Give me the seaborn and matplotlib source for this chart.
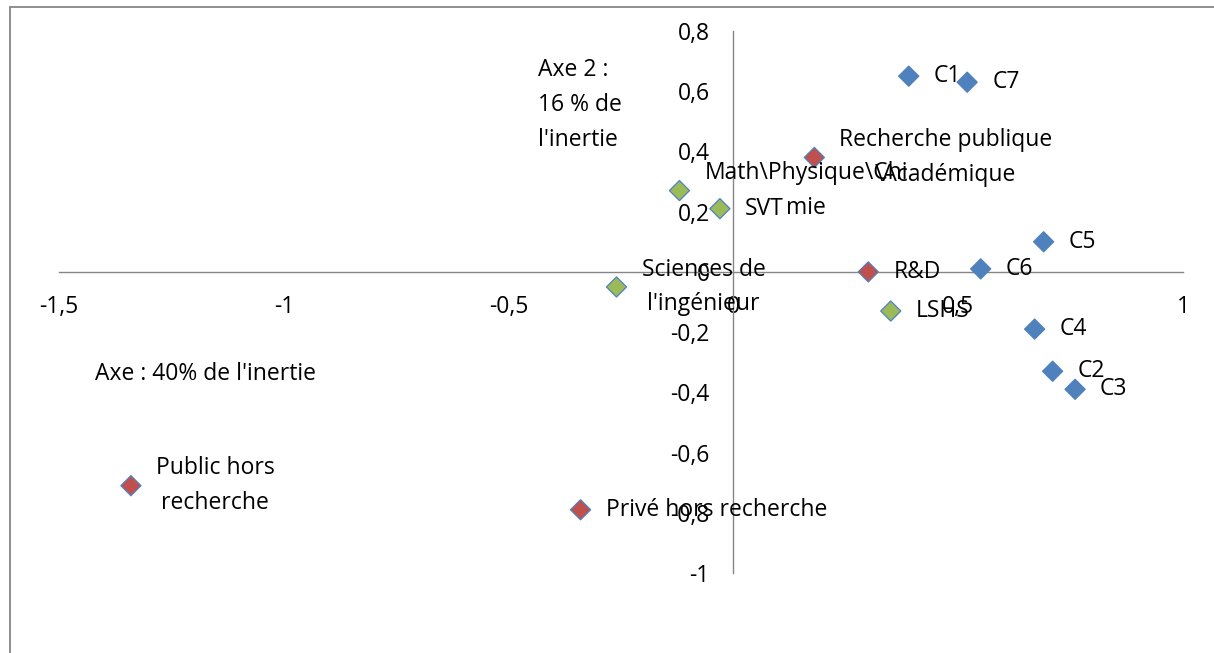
import seaborn as sns
import matplotlib.pyplot as plt
import pandas as pd
from matplotlib.lines import Line2D

sns.set_style("white")
plt.rcParams['font.family'] = ['Open Sans', 'DejaVu Sans']
plt.rcParams['text.color'] = 'black'
plt.rcParams['xtick.labelcolor'] = 'black'
plt.rcParams['ytick.labelcolor'] = 'black'

# Data: coordinates on the two first axes
labels = ["C1", "C7", "C5", "C6", "C4", "C2", "C3",
          "Recherche publique\n\\Académique", "R&D", "Public hors\nrecherche", "Privé hors recherche",
          "Math\\Physique\\Chi\nmie", "SVT", "Sciences de\nl'ingénieur", "LSHS"]
axe1 = [0.39, 0.52, 0.69, 0.55, 0.67, 0.71, 0.76,
        0.18, 0.30, -1.34, -0.34,
        -0.12, -0.03, -0.26, 0.35]
axe2 = [0.65, 0.63, 0.10, 0.01, -0.19, -0.33, -0.39,
        0.38, 0.00, -0.71, -0.79,
        0.27, 0.21, -0.05, -0.13]
groupe = ["classe"] * 7 + ["emploi"] * 4 + ["discipline"] * 4

x_ticks = [-1.5, -1, -0.5, 0, 0.5, 1]
x_tick_labels = ["-1,5", "-1", "-0,5", "0", "0,5", "1"]
y_ticks = [0.8, 0.6, 0.4, 0.2, 0, -0.2, -0.4, -0.6, -0.8, -1]
y_tick_labels = ["0,8", "0,6", "0,4", "0,2", "0", "-0,2", "-0,4", "-0,6", "-0,8", "-1"]

df = pd.DataFrame({"label": labels, "axe1": axe1, "axe2": axe2, "groupe": groupe})
palette = {"classe": "#4F81BD", "emploi": "#C0504D", "discipline": "#9BBB59"}
fs = 16.5
ls = 1.6

fig = plt.figure(figsize=(12.14, 6.53), dpi=100)
ax = fig.add_axes([59 / 1214, 80 / 653, 1124 / 1214, 542 / 653])

sns.scatterplot(data=df, x="axe1", y="axe2", hue="groupe", palette=palette,
                marker="D", s=105, edgecolor="#4F81BD", linewidth=0.9,
                legend=False, ax=ax, zorder=3)

for lab, xv, yv in zip(labels, axe1, axe2):
    ax.annotate(lab, (xv, yv), xytext=(18, 0), textcoords="offset points",
                ha="left", va="center", multialignment="center",
                fontsize=fs, linespacing=ls, zorder=4)

ax.set_xlim(-1.5, 1)
ax.set_ylim(-1, 0.8)
ax.set_xticks(x_ticks)
ax.set_xticklabels(x_tick_labels)
ax.set_yticks(y_ticks)
ax.set_yticklabels(y_tick_labels)
ax.set_xlabel("")
ax.set_ylabel("")

for side in ["top", "right"]:
    ax.spines[side].set_visible(False)
ax.spines["left"].set_position(("data", 0))
ax.spines["bottom"].set_position(("data", 0))
for side in ["left", "bottom"]:
    ax.spines[side].set_color("#868686")
    ax.spines[side].set_linewidth(1.0)
ax.tick_params(axis="both", direction="out", length=6, width=1.0, color="#868686",
               labelsize=fs, pad=11)
ax.patch.set_alpha(0)

ax.text(-0.435, 0.555, "Axe 2 :\n16 % de\nl'inertie", fontsize=fs, linespacing=ls,
        ha="left", va="center")
ax.text(-1.42, -0.34, "Axe : 40% de l'inertie", fontsize=fs, ha="left", va="center")

# outer chart frame (top and left only visible)
fig.add_artist(Line2D([9.5 / 1214, 1], [1 - 7 / 653, 1 - 7 / 653], color="#868686", lw=1.3))
fig.add_artist(Line2D([9.5 / 1214, 9.5 / 1214], [0, 1 - 7 / 653], color="#868686", lw=1.3))

fig.savefig("out.png", dpi=100)
